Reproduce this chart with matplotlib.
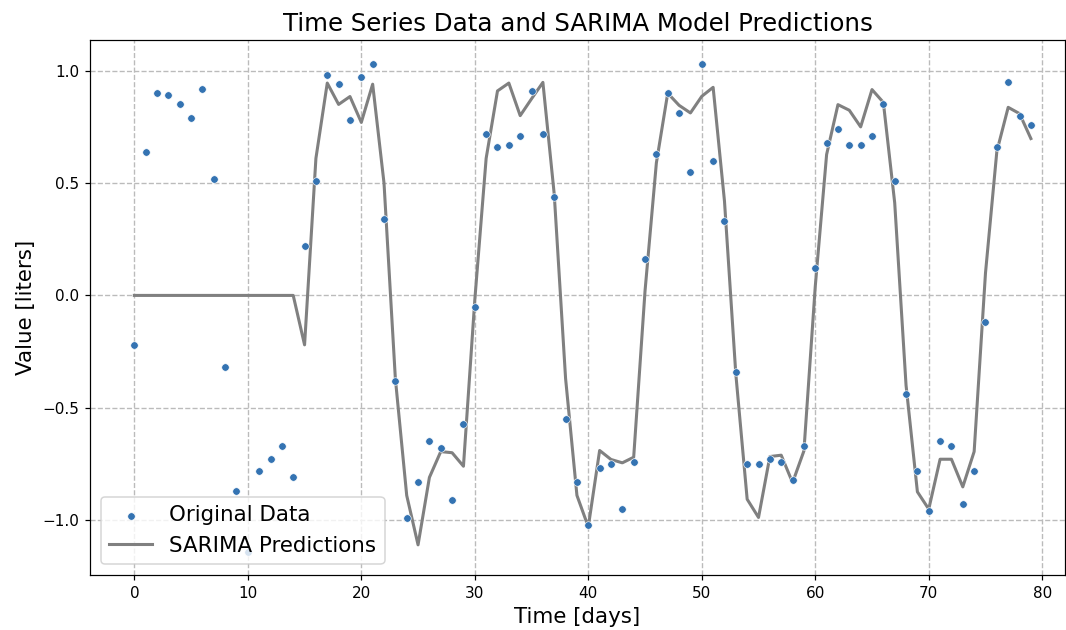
import numpy as np
import matplotlib.pyplot as plt

# values
days = np.arange(80)

original = [-0.22, 0.64, 0.90, 0.89, 0.85, 0.79, 0.92, 0.52, -0.32, -0.87,
            -1.14, -0.78, -0.73, -0.67, -0.81, 0.22, 0.51, 0.98, 0.94, 0.78,
            0.97, 1.03, 0.34, -0.38, -0.99, -0.83, -0.65, -0.68, -0.91, -0.57,
            -0.05, 0.72, 0.66, 0.67, 0.71, 0.91, 0.72, 0.44, -0.55, -0.83,
            -1.02, -0.77, -0.75, -0.95, -0.74, 0.16, 0.63, 0.90, 0.81, 0.55,
            1.03, 0.60, 0.33, -0.34, -0.75, -0.75, -0.73, -0.74, -0.82, -0.67,
            0.12, 0.68, 0.74, 0.67, 0.67, 0.71, 0.85, 0.51, -0.44, -0.78,
            -0.96, -0.65, -0.67, -0.93, -0.78, -0.12, 0.66, 0.95, 0.80, 0.76]

predicted = [0.0, 0.0, 0.0, 0.0, 0.0, 0.0, 0.0, 0.0, 0.0, 0.0,
             0.0, 0.0, 0.0, 0.0, 0.0, -0.22, 0.61, 0.945, 0.85, 0.885,
             0.77, 0.94, 0.50, -0.37, -0.89, -1.11, -0.81, -0.695, -0.70, -0.76,
             -0.02, 0.61, 0.91, 0.945, 0.80, 0.875, 0.948, 0.45, -0.37, -0.89,
             -1.03, -0.69, -0.73, -0.745, -0.72, 0.02, 0.59, 0.90, 0.846, 0.812,
             0.886, 0.926, 0.42, -0.35, -0.907, -0.988, -0.717, -0.711, -0.833, -0.692,
             0.04, 0.627, 0.849, 0.824, 0.75, 0.916, 0.859, 0.412, -0.40, -0.874,
             -0.951, -0.729, -0.729, -0.852, -0.695, 0.10, 0.641, 0.837, 0.809, 0.698]

fig, ax = plt.subplots(figsize=(1066 / 110, 630 / 110), dpi=110)
fig.subplots_adjust(left=0.0845, right=0.999, top=0.937, bottom=0.087)

ax.scatter(days, original, s=24, color='#3473b2', edgecolors='white',
           linewidths=0.4, label='Original Data', zorder=3)
ax.plot(days, predicted, color='gray', linewidth=2, label='SARIMA Predictions', zorder=2)

ax.set_title('Time Series Data and SARIMA Model Predictions', fontsize=16)
ax.set_xlabel('Time [days]', fontsize=14)
ax.set_ylabel('Value [liters]', fontsize=14)
ax.set_xlim(-3.9, 82.0)
ax.set_ylim(-1.245, 1.138)
ax.grid(True, linestyle='--', color='#bbbbbb', linewidth=0.9)
ax.legend(loc='lower left', fontsize=14)

fig.savefig('out.png')
